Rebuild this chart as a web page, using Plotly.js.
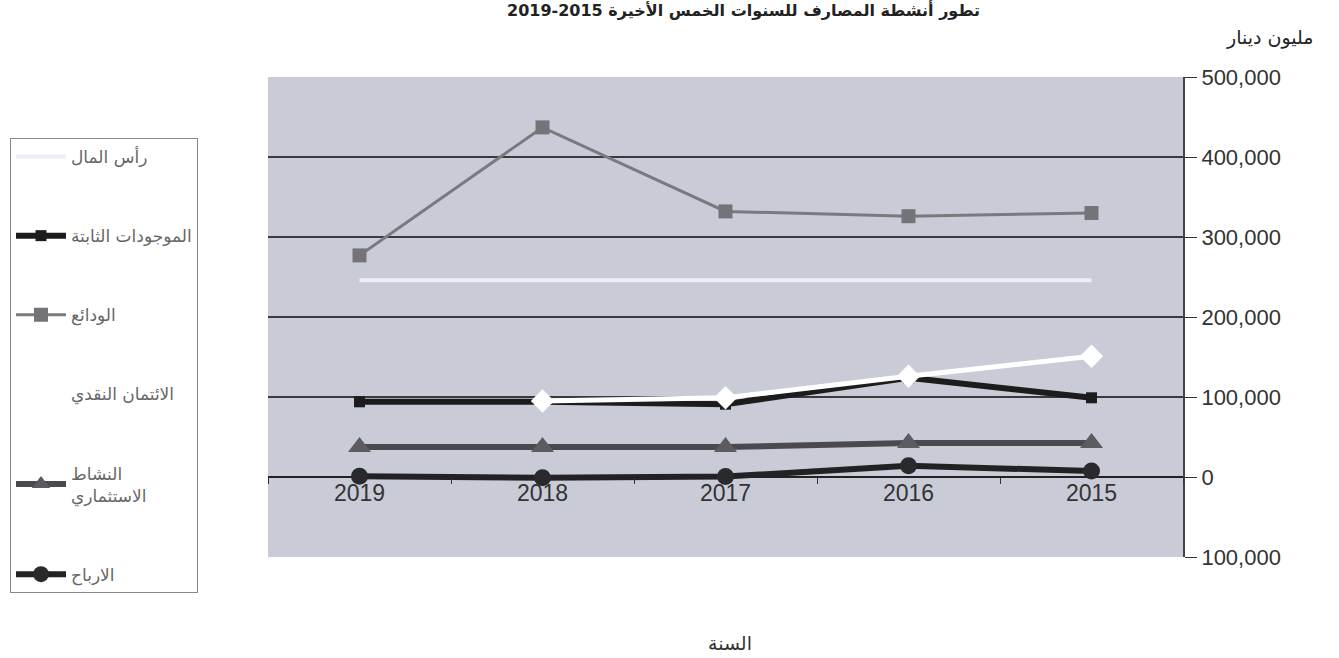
<!DOCTYPE html>
<html><head><meta charset="utf-8">
<script src="https://cdn.plot.ly/plotly-3.0.1.min.js"></script>
<style>html,body{margin:0;padding:0;background:#fff;}#chart{width:1339px;height:658px;}</style>
</head><body><div id="chart"></div>
<script>
const years = ['2019','2018','2017','2016','2015'];
const capital = [246000, 246000, 246000, 246000, 246000];
const fixedAssets = [94000, 94000, 91000, 124000, 99000];
const deposits = [277000, 437000, 332000, 326000, 330000];
const cashCredit = [null, 95000, 99000, 126000, 151000];
const investment = [37500, 37500, 37500, 42500, 42500];
const profits = [1000, -1000, 500, 14000, 7500];
const yTickVals = [-100000, 0, 100000, 200000, 300000, 400000, 500000];
const yTickText = ['100,000', '0', '100,000', '200,000', '300,000', '400,000', '500,000'];
const names = ['رأس المال', 'الموجودات الثابتة', 'الودائع', 'الائتمان النقدي', 'النشاط<br>الاستثماري', 'الارباح'];

const traces = [
  {x: years, y: capital, name: names[0], mode: 'lines', line: {color: '#eceef4', width: 4}, legendgroup: 'a'},
  {x: years, y: fixedAssets, name: names[1], mode: 'lines+markers', line: {color: '#1c1c1c', width: 6}, marker: {symbol: 'square', size: 11, color: '#1c1c1c'}, legendgroup: 'b'},
  {x: years, y: deposits, name: names[2], mode: 'lines+markers', line: {color: '#7a7a7e', width: 3}, marker: {symbol: 'square', size: 14, color: '#747478'}, legendgroup: 'c'},
  {x: years, y: cashCredit, name: names[3], mode: 'lines+markers', line: {color: '#ffffff', width: 5}, marker: {symbol: 'diamond', size: 18, color: '#ffffff'}, legendgroup: 'd'},
  {x: years, y: investment, name: names[4], mode: 'lines+markers', line: {color: '#4a4a4e', width: 6}, marker: {symbol: 'triangle-up', size: 20, color: '#5c5c60'}, legendgroup: 'e'},
  {x: years, y: profits, name: names[5], mode: 'lines+markers', line: {color: '#222224', width: 6}, marker: {symbol: 'circle', size: 17, color: '#2a2a2c'}, legendgroup: 'f'}
];

const layout = {
  width: 1339, height: 658,
  margin: {l: 268, r: 156, t: 77, b: 101},
  paper_bgcolor: '#ffffff',
  plot_bgcolor: '#c9cbd7',
  font: {family: 'Liberation Sans, Arial, sans-serif', color: '#333'},
  showlegend: true,
  legend: {
    xref: 'container', yref: 'container',
    x: 10/1339, xanchor: 'left',
    y: 1 - 138/658, yanchor: 'top',
    maxheight: 600,
    bgcolor: '#ffffff', bordercolor: '#888', borderwidth: 1,
    font: {size: 17, color: '#666', family: 'DejaVu Sans, sans-serif'},
    tracegroupgap: 54, itemwidth: 50
  },
  xaxis: {
    type: 'category',
    anchor: 'free', position: 1/6,
    showgrid: false, zeroline: false,
    showline: false,
    ticks: 'outside', ticklen: 6, tickcolor: '#333', tickson: 'boundaries',
    tickfont: {size: 23, color: '#333'},
    range: [-0.5, 4.5]
  },
  yaxis: {
    side: 'right',
    range: [-100000, 500000],
    tickvals: yTickVals, ticktext: yTickText,
    tickfont: {size: 22, color: '#333'},
    ticks: 'outside', ticklen: 12, tickcolor: '#333',
    showline: true, linecolor: '#444', linewidth: 2,
    showgrid: true, gridcolor: '#3a3a3e', gridwidth: 2,
    zeroline: true, zerolinecolor: '#222', zerolinewidth: 2
  },
  annotations: [
    {text: 'مليون دينار', xref: 'paper', yref: 'paper', x: 1.095, y: 1 + 40/480, xanchor: 'center', yanchor: 'middle', showarrow: false, font: {size: 19, color: '#222', family: 'DejaVu Sans, sans-serif'}},
    {text: '<b>تطور أنشطة المصارف للسنوات الخمس الأخيرة 2015-2019</b>', xref: 'paper', yref: 'paper', x: 0.52, y: 1 + 67/480, xanchor: 'center', yanchor: 'middle', showarrow: false, font: {size: 16, color: '#222', family: 'DejaVu Sans, sans-serif'}},
    {text: 'السنة', xref: 'paper', yref: 'paper', x: (730-268)/915, y: -(643-557)/480, xanchor: 'center', yanchor: 'middle', showarrow: false, font: {size: 19, color: '#333', family: 'DejaVu Sans, sans-serif'}}
  ]
};

Plotly.newPlot('chart', traces, layout, {displayModeBar: false, staticPlot: true});
</script></body></html>
